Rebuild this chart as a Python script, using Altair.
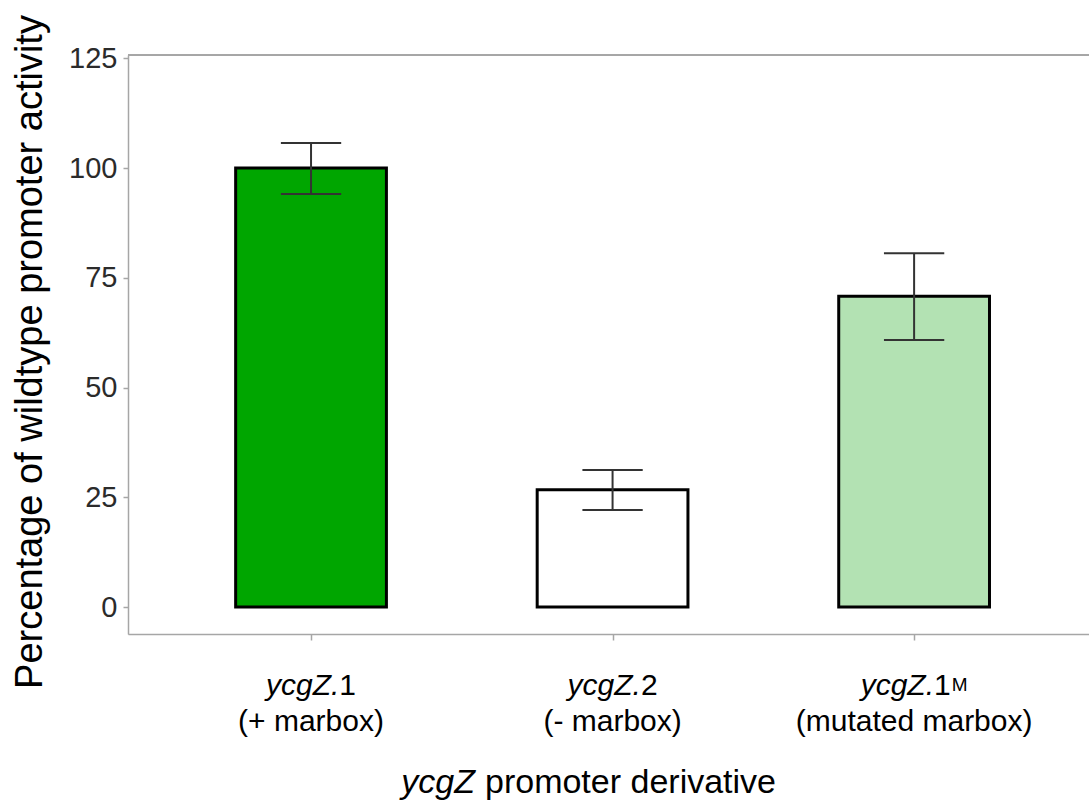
import altair as alt
import pandas as pd

# ---- data ----
categories = ["ycgZ.1", "ycgZ.2", "ycgZ.1M"]
label_italic = ["ycgZ.", "ycgZ.", "ycgZ."]
label_regular = ["1", "2", "1"]
label_sup = ["", "", "M"]
label_line2 = ["(+ marbox)", "(- marbox)", "(mutated marbox)"]
values = [100.0, 26.7, 70.8]
err_low = [94.1, 22.1, 60.8]
err_high = [105.7, 31.2, 80.6]
fill_colors = ["#00a600", "#ffffff", "#b3e2b3"]
y_ticks = [0, 25, 50, 75, 100, 125]
y_title = "Percentage of wildtype promoter activity"
x_title_italic = "ycgZ"
x_title_regular = "promoter derivative"

# ---- layout ----
FONT = "Liberation Sans"
W, H = 961, 579
PAD = {"left": 128, "top": 55, "right": 0, "bottom": 169}
X_DOMAIN = [0.393, 3.580]
Y_DOMAIN = [-6.15, 125.75]
PX_PER_UNIT = W / (X_DOMAIN[1] - X_DOMAIN[0])
GRAY = "#a6a6a6"
LF = 30   # category label font size
SF = 19   # superscript size

AW = {'y': .5, 'c': .5, 'g': .556, 'Z': .611, '.': .278, '1': .556, '2': .556, 'M': .833}


def tw(s, size):
    return sum(AW.get(ch, .556) for ch in s) * size


rows = []
for i, cat in enumerate(categories):
    pos = i + 1
    w_it = tw(label_italic[i], LF)
    w_reg = tw(label_regular[i], LF)
    w_sup = tw(label_sup[i], SF) + (1 if label_sup[i] else 0)
    total = w_it + w_reg + w_sup
    split_px = -total / 2 + w_it
    rows.append(dict(
        category=cat, pos=pos,
        x0=pos - 0.25, x1=pos + 0.25,
        c0=pos - 0.1, c1=pos + 0.1,
        value=values[i], base=0.0,
        lo=err_low[i], hi=err_high[i],
        ital=label_italic[i], reg=label_regular[i], sup=label_sup[i],
        line2=label_line2[i],
        x_split=pos + split_px / PX_PER_UNIT,
        x_sup=pos + (split_px + w_reg + 1) / PX_PER_UNIT,
    ))
df = pd.DataFrame(rows)

xscale = alt.Scale(domain=X_DOMAIN, nice=False, zero=False)
yscale = alt.Scale(domain=Y_DOMAIN, nice=False, zero=False)

base = alt.Chart(df)

bars = base.mark_bar(stroke="black", strokeWidth=3).encode(
    x=alt.X("x0:Q", scale=xscale,
            axis=alt.Axis(values=[1, 2, 3], labels=False, title=None, grid=False,
                          domainColor=GRAY, domainWidth=1.5, tickColor=GRAY,
                          tickWidth=1.5, tickSize=6)),
    x2="x1:Q",
    y=alt.Y("value:Q", scale=yscale,
            axis=alt.Axis(values=y_ticks, title=None, grid=False,
                          labelFontSize=29, labelColor="#2b2b2b", labelFont=FONT,
                          labelPadding=6, domainColor=GRAY, domainWidth=1.5,
                          tickColor=GRAY, tickWidth=1.5, tickSize=5)),
    y2="base:Q",
    color=alt.Color("category:N", scale=alt.Scale(domain=categories, range=fill_colors),
                    legend=None),
)

err_v = base.mark_rule(color="#333333", strokeWidth=2).encode(
    x=alt.X("pos:Q", scale=xscale), y=alt.Y("lo:Q", scale=yscale), y2="hi:Q")
cap_hi = base.mark_rule(color="#333333", strokeWidth=2).encode(
    x=alt.X("c0:Q", scale=xscale), x2="c1:Q", y=alt.Y("hi:Q", scale=yscale))
cap_lo = base.mark_rule(color="#333333", strokeWidth=2).encode(
    x=alt.X("c0:Q", scale=xscale), x2="c1:Q", y=alt.Y("lo:Q", scale=yscale))

top_line = base.mark_rule(color=GRAY, strokeWidth=1.5).encode(
    x=alt.value(0), x2=alt.value(W), y=alt.value(0))

lab_it = base.mark_text(font=FONT, fontSize=LF, fontStyle="italic", align="right",
                        baseline="alphabetic", color="black").encode(
    x=alt.X("x_split:Q", scale=xscale), y=alt.value(640), text="ital:N")
lab_reg = base.mark_text(font=FONT, fontSize=LF, align="left",
                         baseline="alphabetic", color="black").encode(
    x=alt.X("x_split:Q", scale=xscale), y=alt.value(640), text="reg:N")
lab_sup = base.mark_text(font=FONT, fontSize=SF, align="left",
                         baseline="alphabetic", color="black").encode(
    x=alt.X("x_sup:Q", scale=xscale), y=alt.value(636), text="sup:N")
lab_l2 = base.mark_text(font=FONT, fontSize=LF, align="center",
                        baseline="alphabetic", color="black").encode(
    x=alt.X("pos:Q", scale=xscale), y=alt.value(676), text="line2:N")

title_df = pd.DataFrame({"it": [x_title_italic], "reg": [x_title_regular], "yt": [y_title]})
tb = alt.Chart(title_df)
xt_it = tb.mark_text(font=FONT, fontSize=34, fontStyle="italic", align="right",
                     baseline="alphabetic", color="black").encode(
    x=alt.value(347), y=alt.value(738), text="it:N")
xt_reg = tb.mark_text(font=FONT, fontSize=34, align="left",
                      baseline="alphabetic", color="black").encode(
    x=alt.value(357), y=alt.value(738), text="reg:N")
yt = tb.mark_text(font=FONT, fontSize=38, angle=270, align="center",
                  baseline="alphabetic", color="black").encode(
    x=alt.value(-86), y=alt.value(297), text="yt:N")

chart = alt.layer(
    top_line, bars, err_v, cap_hi, cap_lo, lab_it, lab_reg, lab_sup, lab_l2,
    xt_it, xt_reg, yt
).properties(
    width=W, height=H,
    autosize=alt.AutoSizeParams(type="none"),
    padding=PAD,
).configure_view(stroke=None).configure(background="white")

chart.save("out.html", embed_options={"renderer": "svg", "actions": False})
